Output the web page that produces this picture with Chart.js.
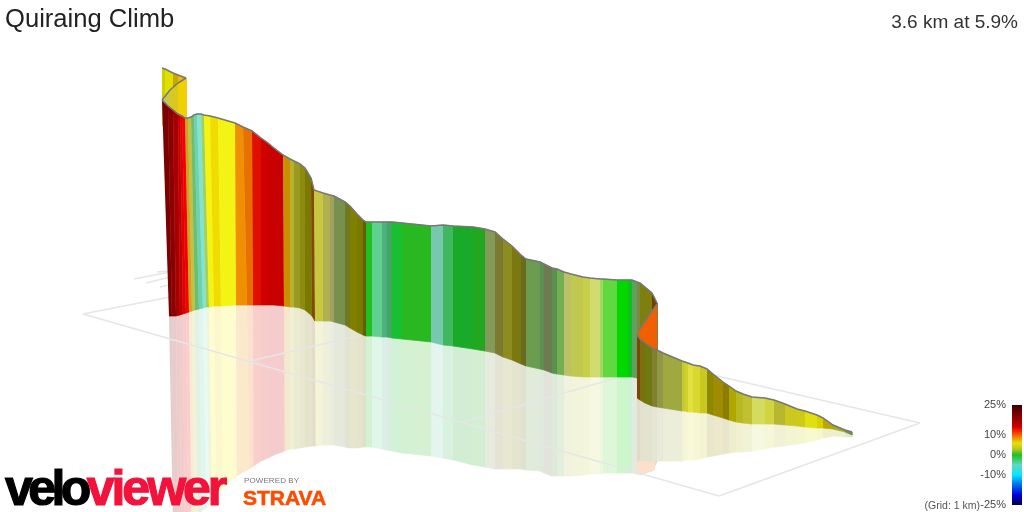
<!DOCTYPE html>
<html>
<head>
  <meta charset="utf-8">
  <title>Quiraing Climb</title>
  <script src="https://cdn.jsdelivr.net/npm/chart.js@4/dist/chart.umd.min.js"></script>
  <style>
    html, body { margin: 0; background: #fff; overflow: hidden; }
    body { width: 1024px; height: 512px; position: relative; font-family: "Liberation Sans", Arial, sans-serif; }
    canvas { position: absolute; }
    .txt { position: absolute; white-space: nowrap; line-height: 1; }
    #title { left: 5px; top: 6px; font-size: 25.6px; color: #222; }
    #summary { right: 6px; top: 12px; font-size: 19px; color: #333; }
    #grid-note { right: 44px; top: 500px; font-size: 10.5px; color: #555; }
    #logo { left: 5px; top: 463px; font-size: 50px; font-weight: bold; letter-spacing: -4.6px; -webkit-text-stroke: 1.2px; color: #000; }
    #logo span { color: #f2123c; -webkit-text-stroke-color: #f2123c; letter-spacing: -3px; }
    #powered { left: 244px; top: 477px; font-size: 8px; letter-spacing: 0.1px; color: #777; }
    #strava { left: 243px; top: 487px; font-size: 21px; font-weight: bold; letter-spacing: 0; -webkit-text-stroke: .6px; color: #fc4c02; }
  </style>
</head>
<body>
  <canvas id="ribbon" width="1024" height="512" style="left:0;top:0"></canvas>
  <canvas id="scale" width="61" height="117" style="left:961px;top:395px"></canvas>
  <div class="txt" id="title">Quiraing Climb</div>
  <div class="txt" id="summary">3.6 km at 5.9%</div>
  <div class="txt" id="grid-note">(Grid: 1 km)</div>
  <div class="txt" id="logo">velo<span>viewer</span></div>
  <div class="txt" id="powered">POWERED BY</div>
  <div class="txt" id="strava">STRAVA</div>
  <script>
    // tail at the start of the climb, behind the fold
    var tailX = [162, 165, 173, 178, 186];
    var tailTopY = [68, 69, 73, 75, 78];
    var tailBaseY = [125, 125, 125, 125, 125];
    var tailColours = ['#d0d000', '#e0e000', '#c8a800', '#f0b800'];

    var foldX = [162, 170, 178, 186];
    var foldTopY = [100, 90, 83, 78];
    var foldBaseY = [125, 125, 125, 125];
    var foldColours = ['#c8c850', '#d8c820', '#f0d000'];

    var mainTopX = [162, 168, 173, 178, 180, 182, 185, 188, 191, 194, 197, 201, 204, 210, 218, 235, 243, 252, 261, 268, 274, 283, 290, 294, 300, 305, 311, 314, 323, 330, 334, 345, 350, 357, 363, 366, 372, 382, 387, 392, 402, 431, 443, 453, 473, 485, 495, 503, 512, 521, 526, 540, 544, 552, 557, 564, 571, 583, 590, 600, 603, 617, 628, 632, 637, 640, 652, 657];
    var mainTopY = [100, 106, 110, 114, 115, 116, 118, 118, 117, 115, 114, 114, 115, 116, 118, 123, 127, 131, 138, 143, 148, 155, 159, 161, 164, 168, 178, 190, 193, 195, 196, 202, 206, 214, 220, 222, 222, 222, 222, 222, 223, 226, 225, 226, 227, 229, 232, 239, 246, 255, 259, 262, 264, 268, 269, 272, 274, 277, 278, 279, 279, 280, 280, 280, 282, 283, 293, 303];
    var mainBaseX = [169, 172, 176, 180, 183, 186, 189, 192, 195, 199, 203, 206, 209, 214, 221, 236, 247, 253, 261, 268, 274, 284, 290, 294, 300, 305, 312, 315, 323, 330, 334, 345, 350, 357, 363, 366, 372, 382, 387, 392, 402, 431, 443, 453, 473, 485, 495, 503, 512, 521, 526, 540, 544, 552, 557, 564, 571, 583, 590, 600, 603, 617, 628, 632, 637, 640, 652, 657];
    var mainBaseY = [316, 316, 316, 315, 314, 313, 312, 311, 310, 309, 308, 307, 307, 306, 306, 305, 305, 305, 305, 305, 305, 306, 307, 307, 308, 310, 316, 321, 321, 321, 322, 325, 328, 332, 335, 336, 336, 337, 337, 338, 339, 342, 345, 346, 349, 351, 353, 357, 360, 364, 366, 369, 370, 373, 374, 375, 376, 377, 377, 377, 377, 377, 377, 377, 378, 378, 378, 378];
    var mainMirrorY = [535, 535, 535, 530, 527, 524, 522, 520, 515, 511, 508, 505, 503, 497, 489, 476, 469, 466, 461, 458, 455, 451, 449, 449, 448, 447, 446, 446, 445, 445, 445, 447, 448, 448, 447, 447, 447, 449, 450, 451, 453, 456, 458, 460, 465, 467, 469, 469, 469, 469, 470, 471, 473, 476, 476, 476, 476, 475, 474, 474, 473, 473, 473, 473, 474, 475, 471, 462];
    var mainColours = ['#7c0000', '#8b0000', '#a80000', '#c00000', '#e00000', '#f40000', '#d0a020', '#c4c040', '#68c070', '#70d0b0', '#80e4d4', '#a4d060', '#f4f410', '#f0dc00', '#f4f414', '#f09000', '#e87000', '#e01000', '#d00000', '#c80000', '#c80000', '#c89000', '#b8b030', '#9a9a20', '#8c8c10', '#7a7a00', '#804800', '#c8c840', '#b0b050', '#a0a060', '#78904f', '#707820', '#808000', '#7a7a00', '#606000', '#20c020', '#60d090', '#50b080', '#40a860', '#18c030', '#28b820', '#78c8b0', '#40b860', '#18aa28', '#22a820', '#849a5a', '#7a7a30', '#8c8c20', '#7c7810', '#6a6a20', '#6b9c50', '#5f8f50', '#707a50', '#5a9050', '#70b050', '#bcc068', '#c0c850', '#c8d048', '#d0dc70', '#a0d860', '#60d840', '#00d800', '#10c020', '#60a060', '#7a8a40', '#7f7f10', '#704000'];

    // orange face where the road doubles back
    var turnX = [657, 639];
    var turnTopY = [304, 330];
    var turnBaseY = [375, 395];
    var turnMirrorY = [470, 474];
    var turnColours = ['#f06000'];

    // last run out to the tip
    var lastX = [637, 640, 645, 652, 657, 663, 682, 685, 688, 693, 700, 707, 713, 723, 729, 736, 743, 752, 765, 774, 785, 797, 805, 817, 823, 833, 845, 852];
    var lastTopY = [335, 339, 343, 348, 350, 353, 361, 362, 363, 365, 366, 369, 374, 382, 386, 391, 394, 397, 398, 400, 404, 409, 411, 415, 418, 425, 430, 432];
    var lastBaseY = [398, 400, 403, 406, 407, 408, 411, 411, 412, 412, 413, 413, 415, 418, 420, 422, 423, 424, 424, 424, 425, 426, 427, 428, 428, 429, 432, 435];
    var lastMirrorY = [461, 461, 461, 461, 461, 461, 461, 460, 460, 460, 459, 457, 456, 454, 453, 452, 452, 451, 449, 447, 446, 444, 443, 440, 438, 436, 437, 437];
    var lastColours = ['#7a4800', '#7a7010', '#707810', '#7f8030', '#909848', '#a0a840', '#c8c830', '#d0d030', '#e0e040', '#d8d830', '#c8c820', '#8c8800', '#a08c00', '#8c7c00', '#b0a800', '#b8b820', '#c0c030', '#d4dc60', '#d0d440', '#b8b830', '#ccc820', '#cccc18', '#e0e010', '#d8d000', '#b8a800', '#a8a820', '#709040'];

    // floor grid, each row is x1, y1, x2, y2
    var gridLines = [
      [83, 314, 719, 496],
      [719, 496, 920, 423],
      [920, 423, 700, 372],
      [83, 314, 175, 296],
      [250, 361, 370, 333],
      [463, 422, 620, 377],
      [134, 279, 170, 272],
      [146, 283, 170, 277],
      [160, 287, 170, 285],
      [157, 272, 170, 271]
    ];

    // colour scale
    var scaleTicks = [-25, -10, 0, 10, 25];
    var scaleGrades = [25, 20, 14, 12, 9, 6, 3, 0, -5, -10, -14, -20, -25];
    var scaleColours = ['#3a0000', '#800000', '#d00000', '#ff2000', '#f08000', '#e8e000', '#b8c820', '#20c020', '#60d8c0', '#00e8ff', '#0080f0', '#0000e0', '#000040'];

    var datasets = [];

    function pale(hex) {
      var out = '#';
      for (var i = 1; i < 7; i += 2) {
        var v = parseInt(hex.substr(i, 2), 16);
        out += Math.round(v * 0.2 + 255 * 0.8).toString(16).padStart(2, '0');
      }
      return out;
    }

    function addLine(points, colour, width, filled) {
      datasets.push({
        type: 'line',
        data: points,
        order: -datasets.length,
        fill: filled ? 'shape' : false,
        backgroundColor: colour,
        borderColor: colour,
        borderWidth: width,
        pointRadius: 0,
        tension: 0
      });
    }

    function addStripes(x1, y1, x2, y2, colours, tone) {
      for (var i = 0; i < colours.length; i++) {
        addLine([
          {x: x1[i], y: y1[i]},
          {x: x1[i + 1], y: y1[i + 1]},
          {x: x2[i + 1], y: y2[i + 1]},
          {x: x2[i], y: y2[i]}
        ], tone ? tone(colours[i]) : colours[i], 0.7, true);
      }
    }

    function addOutline(x, y) {
      addLine(x.map(function (v, i) { return {x: v, y: y[i]}; }), '#777777', 1.5, false);
    }

    // the reflection leans the same way as the wall, just mirrored at the base
    var mainMirrorX = mainBaseX.map(function (v, i) { return v + (v - mainTopX[i]) * 0.6; });
    var turnBaseX = [657, 638];
    var turnMirrorX = [655, 637];

    addStripes(mainBaseX, mainBaseY, mainMirrorX, mainMirrorY, mainColours, pale);
    addStripes(turnBaseX, turnBaseY, turnMirrorX, turnMirrorY, turnColours, pale);
    addStripes(lastX, lastBaseY, lastX, lastMirrorY, lastColours, pale);

    gridLines.forEach(function (g) {
      addLine([{x: g[0], y: g[1]}, {x: g[2], y: g[3]}], '#e6e6e6', 1.6, false);
    });

    addStripes(tailX, tailTopY, tailX, tailBaseY, tailColours);
    addOutline(tailX, tailTopY);
    addStripes(foldX, foldTopY, foldX, foldBaseY, foldColours);
    addOutline(foldX, foldTopY);
    addStripes(mainTopX, mainTopY, mainBaseX, mainBaseY, mainColours);
    addOutline(mainTopX, mainTopY);
    addStripes(turnX, turnTopY, turnBaseX, turnBaseY, turnColours);
    addOutline(turnX, turnTopY);
    addStripes(lastX, lastTopY, lastX, lastBaseY, lastColours);
    addOutline(lastX, lastTopY);

    new Chart(document.getElementById('ribbon'), {
      type: 'line',
      data: {datasets: datasets},
      options: {
        responsive: false,
        animation: false,
        parsing: false,
        normalized: true,
        events: [],
        layout: {padding: 0},
        plugins: {legend: {display: false}, tooltip: {enabled: false}},
        scales: {
          x: {type: 'linear', min: 0, max: 1024, display: false},
          y: {type: 'linear', min: 0, max: 512, reverse: true, display: false}
        }
      }
    });

    new Chart(document.getElementById('scale'), {
      type: 'bar',
      data: {
        labels: ['grade'],
        datasets: [{
          data: [[-25, 25]],
          barPercentage: 1,
          categoryPercentage: 1,
          backgroundColor: function (ctx) {
            var area = ctx.chart.chartArea;
            if (!area) return '#000';
            var g = ctx.chart.ctx.createLinearGradient(0, area.top, 0, area.bottom);
            scaleGrades.forEach(function (v, i) {
              g.addColorStop((25 - v) / 50, scaleColours[i]);
            });
            return g;
          }
        }]
      },
      options: {
        responsive: false,
        animation: false,
        events: [],
        layout: {padding: {top: 10, bottom: 7}},
        plugins: {legend: {display: false}, tooltip: {enabled: false}},
        scales: {
          x: {display: false},
          y: {
            min: -25,
            max: 25,
            afterBuildTicks: function (axis) {
              axis.ticks = scaleTicks.map(function (v) { return {value: v}; });
            },
            afterFit: function (axis) {
              axis.width = 51;
              axis.paddingTop = 0;
              axis.paddingBottom = 0;
            },
            grid: {display: false, drawTicks: false},
            border: {display: false},
            ticks: {
              padding: 6,
              autoSkip: false,
              color: '#444',
              font: {family: '"Liberation Sans", Arial, sans-serif', size: 11},
              callback: function (v) { return v + '%'; }
            }
          }
        }
      }
    });
  </script>
</body>
</html>
